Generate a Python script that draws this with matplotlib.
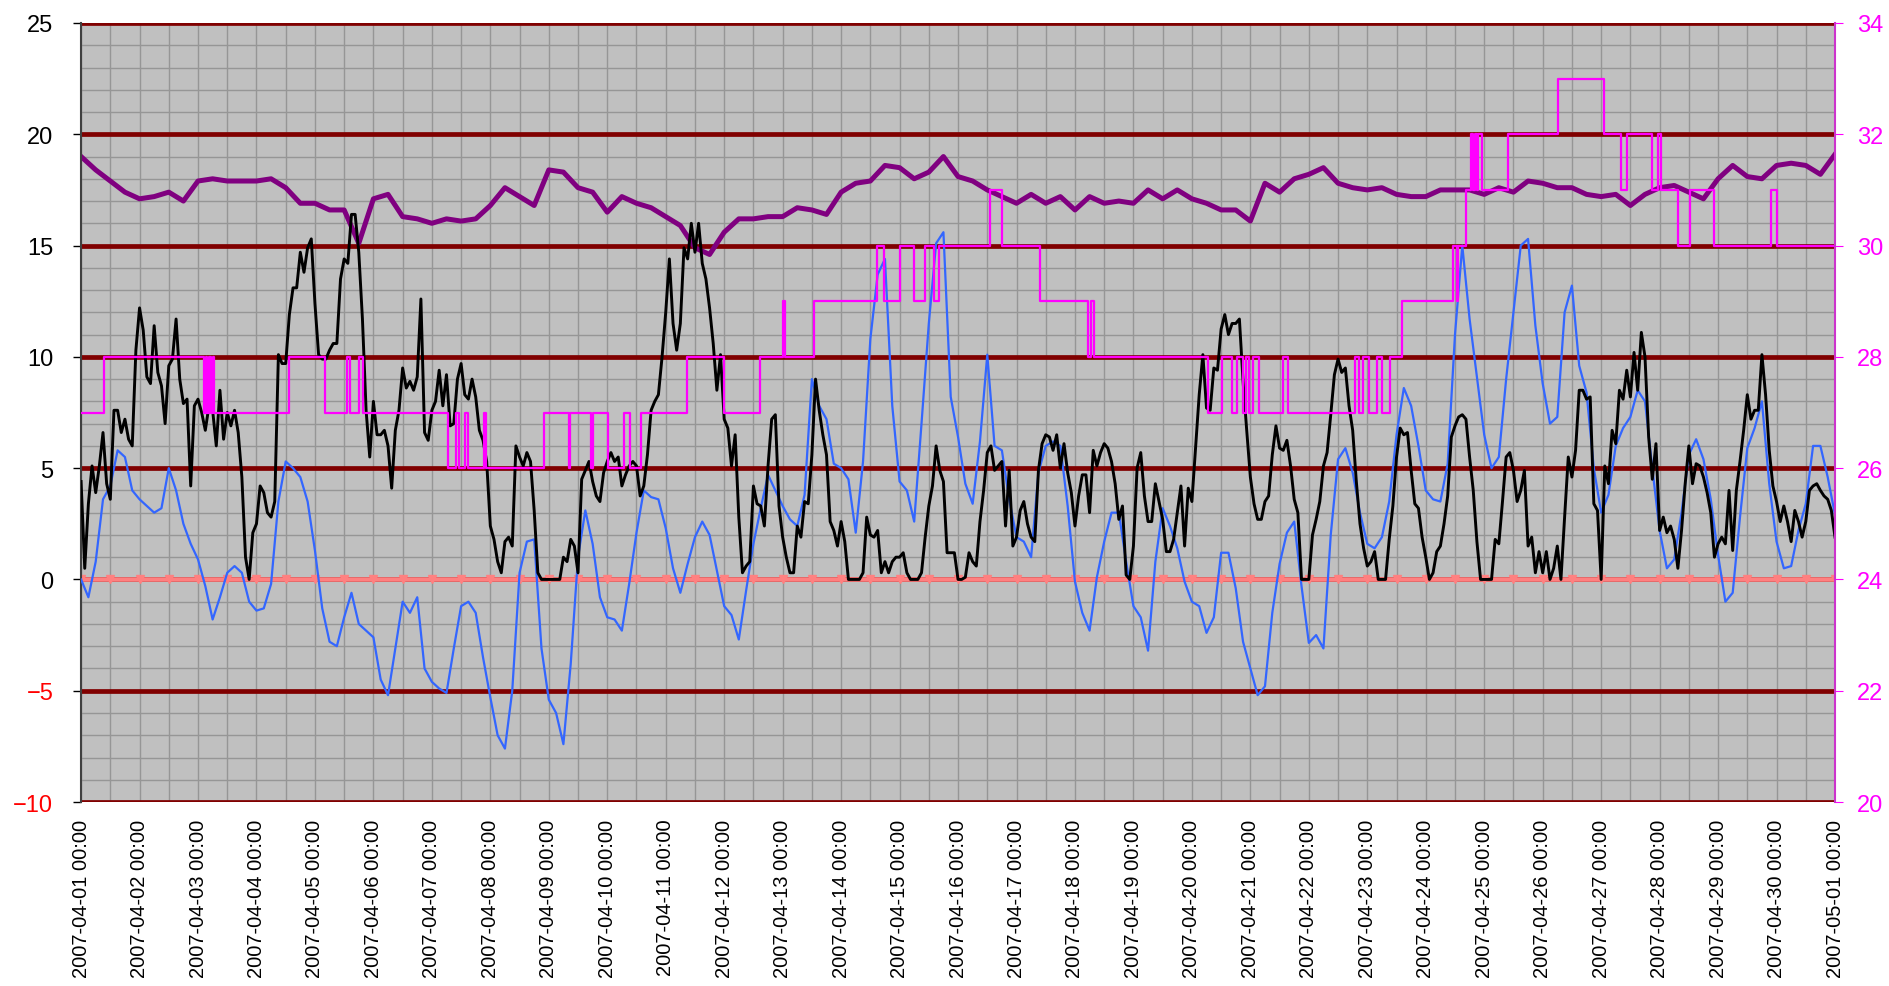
import numpy as np
import pandas as pd
import matplotlib
matplotlib.use('Agg')
import matplotlib.pyplot as plt
import matplotlib.dates as mdates
from matplotlib.ticker import MultipleLocator

plt.rcParams['font.family'] = ['Liberation Sans', 'DejaVu Sans']

start = pd.Timestamp('2007-04-01')
end = pd.Timestamp('2007-05-01')

# black series, one value every 1.5 hours (left axis)
wind = [4.4, 0.5, 3.4, 5.1, 3.9, 5.1, 6.6, 4.3, 3.6, 7.6,
        7.6, 6.6, 7.2, 6.3, 6.0, 10.3, 12.2, 11.2, 9.1, 8.8,
        11.4, 9.3, 8.7, 7.0, 9.6, 9.9, 11.7, 9.0, 7.9, 8.1,
        4.2, 7.8, 8.1, 7.5, 6.7, 7.8, 7.6, 6.0, 8.5, 6.3,
        7.5, 6.9, 7.6, 6.6, 4.6, 1.0, 0.0, 2.1, 2.5, 4.2,
        3.9, 3.0, 2.8, 3.5, 10.1, 9.7, 9.7, 11.9, 13.1, 13.1,
        14.7, 13.8, 14.9, 15.3, 12.4, 10.1, 9.9, 9.9, 10.3, 10.6,
        10.6, 13.5, 14.4, 14.2, 16.4, 16.4, 14.7, 11.7, 7.6, 5.5,
        8.0,
        6.5, 6.5, 6.7, 6.0, 4.1, 6.7, 7.6, 9.5, 8.6,
        8.9, 8.5, 9.1, 12.6, 6.6, 6.25, 7.6, 8.0, 9.4, 7.8,
        9.2, 6.9, 7.0, 9.0, 9.7, 8.3, 8.1, 9.0, 8.2, 6.7,
        6.25, 5.3, 2.4, 1.8, 0.8, 0.3, 1.7, 1.9, 1.5, 6.0,
        5.5, 5.1, 5.7, 5.3, 3.1, 0.3, 0.0, 0.0, 0.0, 0.0,
        0.0, 0.0, 1.0, 0.8, 1.8, 1.5, 0.3, 4.5, 4.9, 5.3,
        4.4, 3.75, 3.5, 4.8, 5.3, 5.7, 5.3, 5.5, 4.2, 4.7,
        5.1, 5.3, 5.1, 3.75, 4.2, 5.6, 7.6, 8.0, 8.3, 10.0,
        12.0,
        14.4, 11.5, 10.3, 11.5, 14.9, 14.4, 16.0, 14.7, 16.0,
        14.2, 13.5, 12.2, 10.6, 8.5, 10.1, 7.2, 6.8, 5.1, 6.5,
        2.8, 0.3, 0.6, 0.8, 4.2, 3.4, 3.3, 2.4, 5.1, 7.2,
        7.4, 3.3, 1.9, 1.0, 0.3, 0.3, 2.4, 1.9, 3.5, 3.4,
        5.6, 9.0, 7.6, 6.5, 5.6, 2.6, 2.2, 1.5, 2.6, 1.7,
        0.0, 0.0, 0.0, 0.0, 0.3, 2.8, 2.0, 1.9, 2.2, 0.3,
        0.8, 0.3, 0.8, 1.0, 1.0, 1.2, 0.3, 0.0, 0.0, 0.0,
        0.3, 1.9, 3.3, 4.2, 6.0, 4.9, 4.4, 1.2, 1.2, 1.2,
        0.0,
        0.0, 0.1, 1.2, 0.8, 0.6, 2.6, 4.0, 5.7, 6.0,
        4.9, 5.1, 5.3, 2.4, 4.9, 1.5, 1.9, 3.1, 3.5, 2.5,
        1.9, 1.7, 4.9, 6.1, 6.5, 6.4, 5.8, 6.5, 5.0, 6.1,
        4.8, 3.9, 2.4, 3.75, 4.7, 4.7, 3.0, 5.8, 5.1, 5.7,
        6.1, 5.9, 5.3, 4.3, 2.7, 3.3, 0.2, 0.0, 1.5, 5.0,
        5.7, 3.75, 2.6, 2.6, 4.3, 3.5, 2.7, 1.25, 1.25, 1.8,
        3.0, 4.2, 1.5, 4.1, 3.5, 5.9, 8.3, 10.1, 7.7, 7.6,
        9.5, 9.4, 11.25, 11.9, 11.0, 11.5, 11.5, 11.7, 8.9, 6.7,
        4.6,
        3.4, 2.7, 2.7, 3.5, 3.75, 5.6, 6.9, 5.9, 5.8,
        6.25, 5.1, 3.6, 3.0, 0.0, 0.0, 0.0, 2.0, 2.7, 3.5,
        5.1, 5.7, 7.4, 9.2, 9.9, 9.3, 9.5, 7.8, 6.7, 4.4,
        2.5, 1.4, 0.6, 0.8, 1.25, 0.0, 0.0, 0.0, 1.8, 3.3,
        5.5, 6.8, 6.5, 6.6, 4.9, 3.4, 3.2, 1.9, 1.0, 0.0,
        0.3, 1.25, 1.5, 2.5, 3.75, 6.4, 6.9, 7.3, 7.4, 7.2,
        5.5, 4.0, 1.7, 0.0, 0.0, 0.0, 0.0, 1.8, 1.6, 3.5,
        5.5, 5.7, 4.9, 3.5, 4.0, 4.9, 1.5, 1.9, 0.3, 1.25,
        0.3,
        1.25, 0.0, 0.5, 1.5, 0.0, 2.8, 5.5, 4.6, 5.8,
        8.5, 8.5, 8.1, 8.2, 3.4, 3.1, 0.0, 5.1, 4.3, 6.7,
        6.1, 8.5, 8.1, 9.4, 8.2, 10.2, 8.5, 11.1, 10.0, 6.4,
        4.5, 6.1, 2.2, 2.8, 2.1, 2.4, 1.8, 0.5, 2.2, 4.3,
        6.0, 4.3, 5.2, 5.1, 4.6, 3.9, 3.0, 1.0, 1.6, 1.9,
        1.6, 4.0, 1.3, 4.0, 5.3, 6.7, 8.3, 7.2, 7.6, 7.6,
        10.1, 8.3, 5.8, 4.2, 3.5, 2.6, 3.3, 2.6, 1.7, 3.1,
        2.6, 1.9, 2.6, 4.0, 4.2, 4.3, 4.0, 3.75, 3.6, 3.1,
        1.9]

# blue series, every 3 hours (left axis)
temp = [0.0, -0.8, 0.8, 3.6, 4.2, 5.8, 5.5, 4.0, 3.6, 3.3,
        3.0, 3.2, 5.0, 4.0, 2.5, 1.6, 0.9, -0.3, -1.8, -0.8,
        0.3, 0.6, 0.3, -1.0, -1.4, -1.3, -0.2, 3.5, 5.3, 5.0,
        4.6, 3.5, 1.3, -1.3, -2.8, -3.0, -1.7, -0.6, -2.0, -2.3,
        -2.6,
        -4.5, -5.2, -3.1, -1.0, -1.5, -0.8, -4.0, -4.6, -4.9,
        -5.1, -3.1, -1.2, -1.0, -1.5, -3.5, -5.3, -7.0, -7.6, -5.0,
        0.3, 1.7, 1.8, -3.1, -5.4, -6.0, -7.4, -3.8, 1.0, 3.1,
        1.6, -0.8, -1.7, -1.8, -2.3, -0.2, 2.1, 4.0, 3.7, 3.6,
        2.3,
        0.5, -0.6, 0.7, 1.9, 2.6, 2.0, 0.4, -1.2, -1.6,
        -2.7, -0.5, 1.6, 3.2, 4.7, 4.0, 3.3, 2.7, 2.4, 3.8,
        9.0, 7.8, 7.2, 5.2, 5.0, 4.5, 2.1, 5.3, 10.8, 13.7,
        14.4, 7.8, 4.4, 4.0, 2.6, 7.0, 11.5, 15.1, 15.6, 8.2,
        6.4,
        4.3, 3.4, 6.2, 10.1, 6.0, 5.8, 3.6, 1.9, 1.7,
        1.0, 4.8, 6.0, 6.2, 6.0, 3.3, -0.1, -1.5, -2.3, 0.1,
        1.7, 3.0, 3.0, 0.8, -1.2, -1.7, -3.2, 0.8, 3.2, 2.4,
        1.4, -0.1, -1.0, -1.2, -2.4, -1.7, 1.2, 1.2, -0.4, -2.8,
        -4.0,
        -5.2, -4.8, -1.5, 0.7, 2.1, 2.6, -0.3, -2.85, -2.5,
        -3.1, 2.0, 5.4, 5.9, 4.8, 3.0, 1.6, 1.4, 1.9, 3.5,
        6.5, 8.6, 7.8, 6.0, 4.0, 3.6, 3.5, 5.2, 11.0, 15.0,
        11.7, 9.1, 6.5, 5.0, 5.5, 9.0, 12.0, 15.0, 15.3, 11.4,
        8.8,
        7.0, 7.3, 12.0, 13.2, 9.6, 8.4, 5.0, 3.0, 3.8,
        6.0, 6.8, 7.3, 8.5, 8.0, 5.0, 2.2, 0.5, 0.9, 3.0,
        5.6, 6.3, 5.4, 3.6, 1.1, -1.0, -0.6, 2.8, 5.9, 6.8,
        8.0, 4.3, 1.7, 0.5, 0.6, 2.2, 3.4, 6.0, 6.0, 4.6,
        2.9]

# purple series, every 6 hours (left axis)
purple = [19.0, 18.4, 17.9, 17.4, 17.1, 17.2, 17.4, 17.0, 17.9, 18.0,
          17.9, 17.9, 17.9, 18.0, 17.6, 16.9, 16.9, 16.6, 16.6, 15.1, 17.1,
          17.3, 16.3, 16.2, 16.0, 16.2, 16.1, 16.2, 16.8, 17.6, 17.2,
          16.8, 18.4, 18.3, 17.6, 17.4, 16.5, 17.2, 16.9, 16.7, 16.3,
          15.9, 14.9, 14.6, 15.6, 16.2, 16.2, 16.3, 16.3, 16.7, 16.6,
          16.4, 17.4, 17.8, 17.9, 18.6, 18.5, 18.0, 18.3, 19.0, 18.1,
          17.9, 17.5, 17.2, 16.9, 17.3, 16.9, 17.2, 16.6, 17.2, 16.9,
          17.0, 16.9, 17.5, 17.1, 17.5, 17.1, 16.9, 16.6, 16.6, 16.1,
          17.8, 17.4, 18.0, 18.2, 18.5, 17.8, 17.6, 17.5, 17.6, 17.3,
          17.2, 17.2, 17.5, 17.5, 17.5, 17.3, 17.6, 17.4, 17.9, 17.8,
          17.6, 17.6, 17.3, 17.2, 17.3, 16.8, 17.3, 17.6, 17.7, 17.4,
          17.1, 18.0, 18.6, 18.1, 18.0, 18.6, 18.7, 18.6, 18.2, 19.1]

# magenta step series (right axis): day offset of each change, new level
mag_days = [0.0, 0.40, 2.10, 2.13, 2.16, 2.19, 2.22, 2.25, 2.27, 3.55,
            4.17, 4.54, 4.60, 4.76, 4.82, 6.27, 6.42, 6.46, 6.57, 6.61,
            6.90, 6.93, 7.91, 8.34, 8.37, 8.72, 8.76, 9.01, 9.29, 9.39,
            9.58, 10.36, 10.99, 11.62, 12.01, 12.04, 12.54, 13.61, 13.74, 14.01,
            14.24, 14.44, 14.59, 14.67, 15.54, 15.75, 16.41, 17.23, 17.27, 17.32,
            19.28, 19.51, 19.68, 19.78, 19.88, 19.92, 19.97, 20.05, 20.14, 20.56,
            20.65, 21.79, 21.85, 21.92, 22.03, 22.16, 22.25, 22.38, 22.59, 23.47,
            23.53, 23.56, 23.69, 23.78, 23.81, 23.84, 23.87, 23.90, 23.97, 24.41,
            25.26, 26.05, 26.34, 26.44, 26.87, 26.98, 27.02, 27.32, 27.52, 27.93,
            28.90, 29.00, 30.0]
mag_vals = [27, 28, 27, 28, 27, 28, 27, 28, 27, 28,
            27, 28, 27, 28, 27, 26, 27, 26, 27, 26,
            27, 26, 27, 26, 27, 26, 27, 26, 27, 26,
            27, 28, 27, 28, 29, 28, 29, 30, 29, 30,
            29, 30, 29, 30, 31, 30, 29, 28, 29, 28,
            27, 28, 27, 28, 27, 28, 27, 28, 27, 28,
            27, 28, 27, 28, 27, 28, 27, 28, 29, 30,
            29, 30, 31, 32, 31, 32, 31, 32, 31, 32,
            33, 32, 31, 32, 31, 32, 31, 30, 31, 30,
            31, 30, 30]

# salmon reference line at 0, one point every 12 hours
zero_line = [0.0] * 61

assert len(wind) == 481 and len(temp) == 241 and len(purple) == 121
assert len(mag_days) == len(mag_vals)

t_wind = pd.date_range(start, periods=len(wind), freq='90min')
t_temp = pd.date_range(start, periods=len(temp), freq='3h')
t_purple = pd.date_range(start, periods=len(purple), freq='6h')
t_zero = pd.date_range(start, periods=len(zero_line), freq='12h')
mag_t = start + pd.to_timedelta(mag_days, unit='D')

fig = plt.figure(figsize=(18.9, 9.87), dpi=100)
ax = fig.add_axes([0.0429, 0.1864, 0.9280, 0.7893])
ax.set_facecolor('#C0C0C0')
ax.set_xlim(start, end)
ax.set_ylim(-10, 25)

# grid: grey every 12h / every unit, dark red every 5 units
ax.set_axisbelow(True)
ax.xaxis.set_major_locator(mdates.DayLocator())
ax.xaxis.set_minor_locator(mdates.HourLocator(byhour=[12]))
ax.xaxis.set_major_formatter(mdates.DateFormatter('%Y-%m-%d %H:%M'))
yticks = list(range(-10, 26, 5))
ax.set_yticks(yticks)
ax.yaxis.set_minor_locator(MultipleLocator(1))
ax.grid(which='both', axis='x', color='#969696', lw=1)
ax.grid(which='minor', axis='y', color='#969696', lw=1)
ax.grid(which='major', axis='y', color='#800000', lw=3.4)

ax.plot(t_zero, zero_line, color='#FF8080', lw=3.3, marker='v', ms=6, zorder=1.5)
ax.plot(t_purple, purple, color='#800080', lw=3.6, zorder=2)
ax.plot(t_temp, temp, color='#3366FF', lw=1.6, zorder=3)
ax.plot(t_wind, wind, color='black', lw=2.1, zorder=4)

for s in ['top', 'bottom', 'right']:
    ax.spines[s].set_visible(False)
ax.spines['left'].set_color('#404040')
ax.spines['left'].set_linewidth(1.5)

ax.tick_params(axis='y', which='major', length=6, width=1, pad=14, labelsize=17)
ax.tick_params(axis='y', which='minor', length=0)
ax.tick_params(axis='x', which='both', length=0, pad=12, labelsize=14.5, labelrotation=90)
for lbl, v in zip(ax.get_yticklabels(), yticks):
    lbl.set_color('#FF0000' if v < 0 else 'black')

ax2 = ax.twinx()
ax2.set_ylim(20, 34)
ax2.set_yticks(range(20, 35, 2))
ax2.step(mag_t, mag_vals, where='post', color='#FF00FF', lw=1.6)
for s in ['top', 'bottom', 'left']:
    ax2.spines[s].set_visible(False)
ax2.spines['right'].set_color('#CC33CC')
ax2.spines['right'].set_linewidth(1.5)
ax2.tick_params(axis='y', length=6, color='#FF00FF', labelcolor='#FF00FF',
                labelsize=17, pad=10)

fig.savefig('out.png', dpi=100)
